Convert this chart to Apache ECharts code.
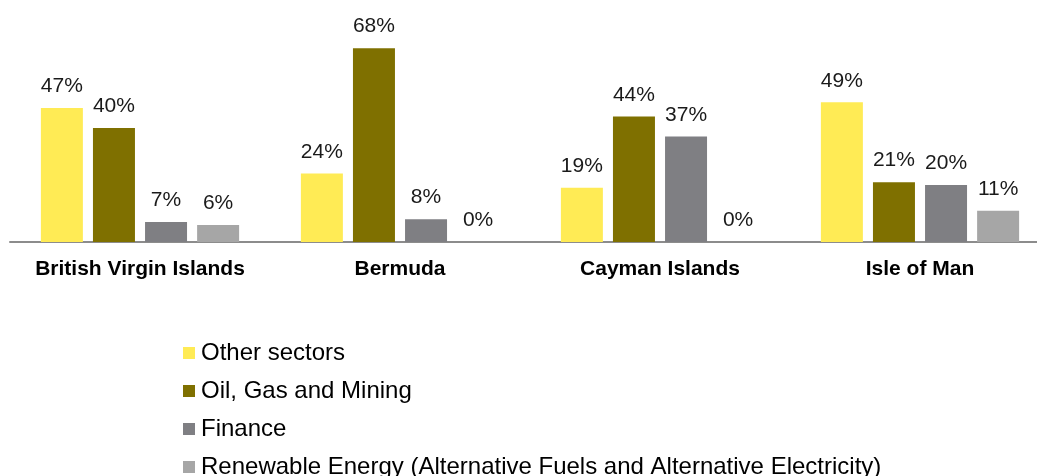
<!DOCTYPE html>
<html>
<head>
<meta charset="utf-8">
<style>
  html, body { margin: 0; padding: 0; background: #ffffff; }
  #chart { width: 1037px; height: 476px; }
</style>
<script src="https://cdn.jsdelivr.net/npm/echarts@6/dist/echarts.min.js"></script>
</head>
<body>
<div id="chart"></div>
<script>
// Share of projects by sector, per jurisdiction (percent)
const categories = ['British Virgin Islands', 'Bermuda', 'Cayman Islands', 'Isle of Man'];
const otherSectors = [47, 24, 19, 49];
const oilGasMining = [40, 68, 44, 21];
const finance = [7, 8, 37, 20];
const renewableEnergy = [6, 0, 0, 11];

const seriesNames = [
  'Other sectors',
  'Oil, Gas and Mining',
  'Finance',
  'Renewable Energy (Alternative Fuels and Alternative Electricity)'
];
const seriesData = [otherSectors, oilGasMining, finance, renewableEnergy];
const colors = ['#FFEB55', '#7F7000', '#7F7F83', '#A6A6A6'];

const chart = echarts.init(document.getElementById('chart'), null, { renderer: 'canvas' });

chart.setOption({
  animation: false,
  backgroundColor: '#ffffff',
  textStyle: { fontFamily: 'Liberation Sans, Arial, sans-serif' },
  // the plot runs slightly past the right edge of the canvas
  grid: { left: 10, width: 1040, top: 14, height: 228, containLabel: false, outerBoundsMode: 'none' },
  xAxis: {
    type: 'category',
    data: categories,
    axisLine: { show: true, lineStyle: { color: '#8C8C8C', width: 2 } },
    axisTick: { show: false },
    axisLabel: {
      interval: 0,
      margin: 17,
      fontSize: 21,
      fontWeight: 'bold',
      color: '#000000'
    }
  },
  yAxis: {
    type: 'value',
    min: 0,
    max: 80,
    show: false,
    splitLine: { show: false }
  },
  legend: {
    orient: 'vertical',
    left: 178,
    top: 336,
    height: 300,
    itemWidth: 12,
    itemHeight: 12,
    itemGap: 14,
    icon: 'rect',
    textStyle: { fontSize: 24, color: '#000000', lineHeight: 22, padding: [0, 0, 0, 1] },
    data: seriesNames
  },
  series: seriesData.map((d, i) => ({
    name: seriesNames[i],
    type: 'bar',
    data: d,
    barWidth: 42,
    barGap: '24%',
    itemStyle: { color: colors[i] },
    label: {
      show: true,
      position: 'top',
      distance: 11,
      fontSize: 21,
      color: '#1A1A1A',
      formatter: p => p.value + '%'
    }
  }))
});
</script>
</body>
</html>
